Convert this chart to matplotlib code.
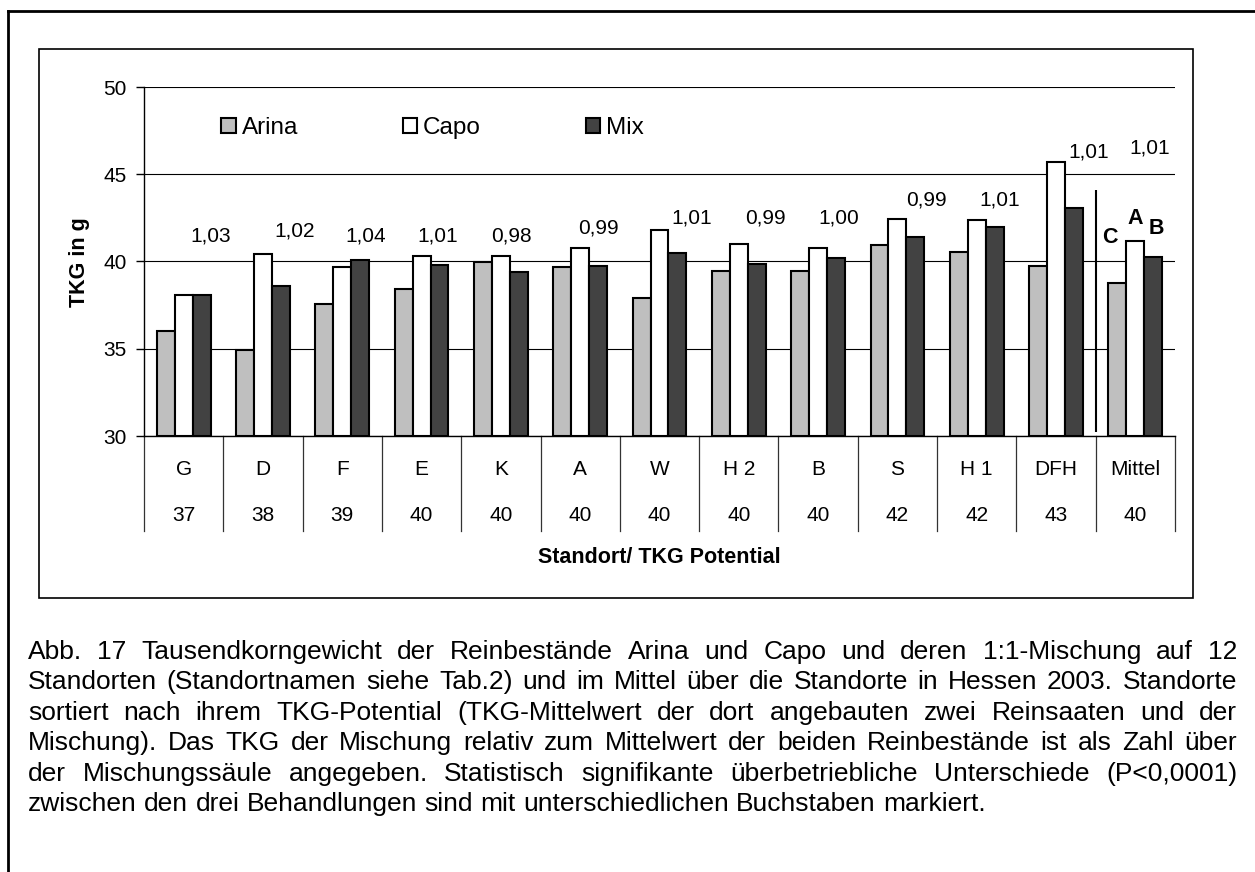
import matplotlib
matplotlib.use('Agg')
import matplotlib.pyplot as plt
from matplotlib.patches import Patch, Rectangle
from matplotlib.lines import Line2D
import numpy as np

plt.rcParams['font.family'] = ['Liberation Sans', 'DejaVu Sans']

# ---------------- data ----------------
standorte = ['G', 'D', 'F', 'E', 'K', 'A', 'W', 'H 2', 'B', 'S', 'H 1', 'DFH', 'Mittel']
tkg_potential = ['37', '38', '39', '40', '40', '40', '40', '40', '40', '42', '42', '43', '40']
series_names = ['Arina', 'Capo', 'Mix']
arina = [36.00, 34.93, 37.57, 38.45, 39.98, 39.66, 37.93, 39.43, 39.43, 40.93, 40.55, 39.75, 38.74]
capo = [38.08, 40.42, 39.69, 40.34, 40.30, 40.76, 41.83, 41.01, 40.80, 42.43, 42.39, 45.71, 41.15]
mix = [38.10, 38.62, 40.09, 39.80, 39.39, 39.77, 40.46, 39.85, 40.21, 41.41, 42.00, 43.06, 40.25]
ratio_labels = ['1,03', '1,02', '1,04', '1,01', '0,98', '0,99', '1,01', '0,99', '1,00',
                '0,99', '1,01', '1,01', '1,01']
mittel_letters = ['C', 'A', 'B']
y_ticks = [30, 35, 40, 45, 50]
y_label = 'TKG in g'
x_label = 'Standort/ TKG Potential'
caption_lines = [
    "Abb. 17 Tausendkorngewicht der Reinbestände Arina und Capo und deren 1:1-Mischung auf 12",
    "Standorten (Standortnamen siehe Tab.2) und im Mittel über die Standorte in Hessen 2003. Standorte",
    "sortiert nach ihrem TKG-Potential (TKG-Mittelwert der dort angebauten zwei Reinsaaten und der",
    "Mischung). Das TKG der Mischung relativ zum Mittelwert der beiden Reinbestände ist als Zahl über",
    "der Mischungssäule angegeben. Statistisch signifikante überbetriebliche Unterschiede (P<0,0001)",
    "zwischen den drei Behandlungen sind mit unterschiedlichen Buchstaben markiert.",
]

# ---------------- layout (annotation placement, not data) ----------------
ratio_label_y = [41.47, 41.75, 41.47, 41.47, 41.47, 41.9, 42.47, 42.47, 42.47, 43.5, 43.5, 46.28, 46.5]
ratio_label_dx_px = [9, 14, 5, -2, -7, 0, 14, 9, 3, 11, 5, 15, -4]
letter_offsets_px = [(-8, 46), (0, 23), (3, 29)]

W, H = 1255, 872
def fx(px):
    return px / W
def fy(py):
    return 1 - py / H

colors = ['#bfbfbf', '#ffffff', '#424242']

fig = plt.figure(figsize=(W / 100, H / 100), dpi=100)
ax = fig.add_axes([fx(144), fy(436), (1175 - 144) / W, (436 - 87) / H])

n = len(standorte)
x = np.arange(n) + 0.5
w = 0.226
base = y_ticks[0]
for k, (vals, c, name) in enumerate(zip([arina, capo, mix], colors, series_names)):
    v = np.array(vals)
    ax.bar(x + (k - 1) * w, v - base, w, bottom=base, color=c, edgecolor='black',
           linewidth=1.5, label=name, zorder=3)

ax.set_xlim(0, n)
ax.set_ylim(y_ticks[0], y_ticks[-1])
ax.set_yticks(y_ticks)
ax.set_xticks([])
ax.set_axisbelow(True)
ax.yaxis.grid(True, color='black', linewidth=0.8)
for s in ['top', 'right']:
    ax.spines[s].set_visible(False)
for s in ['left', 'bottom']:
    ax.spines[s].set_color('black')
    ax.spines[s].set_linewidth(1.0)
ax.tick_params(axis='y', direction='out', length=5.5, width=1, pad=7, labelsize=15)

# ratio labels above mix columns
for i in range(n):
    ax.annotate(ratio_labels[i], xy=(x[i] + w, ratio_label_y[i]),
                xytext=(ratio_label_dx_px[i], 0), textcoords='offset pixels',
                ha='center', va='center', fontsize=15, zorder=5)

# significance letters for Mittel
vals_m = [arina[-1], capo[-1], mix[-1]]
for k, (letter, (dx, dy)) in enumerate(zip(mittel_letters, letter_offsets_px)):
    ax.annotate(letter, xy=(x[-1] + (k - 1) * w, vals_m[k]), xytext=(dx, dy),
                textcoords='offset pixels', ha='center', va='center',
                fontsize=15.5, fontweight='bold', zorder=5)

# separator before Mittel
ax.vlines(n - 1, 30.25, 44.09, color='black', linewidth=1.5, zorder=4)

# category table below axis
xt = ax.get_xaxis_transform()
for k in range(n + 1):
    ax.plot([k, k], [0, -0.272], transform=xt, clip_on=False, color='#333333', linewidth=0.9)
for i in range(n):
    ax.text(x[i], -0.0974, standorte[i], transform=xt, ha='center', va='center', fontsize=15)
    ax.text(x[i], -0.229, tkg_potential[i], transform=xt, ha='center', va='center', fontsize=15)
ax.text(0.5, -0.347, x_label, transform=ax.transAxes, ha='center', va='center',
        fontsize=15.5, fontweight='bold')

fig.text(fx(79), fy(262.5), y_label, rotation=90, ha='center', va='center',
         fontsize=15.5, fontweight='bold')

# legend
handles = [Patch(facecolor=c, edgecolor='black', linewidth=1.5) for c in colors]
ax.legend(handles, series_names, loc='center left', ncol=3,
          bbox_to_anchor=(fx(221), fy(128)), bbox_transform=fig.transFigure,
          frameon=False, fontsize=17.5, handlelength=0.6, handleheight=0.6,
          handletextpad=0.25, columnspacing=4.3, borderpad=0, borderaxespad=0)

# frames
fig.add_artist(Rectangle((fx(39), fy(598)), (1193 - 39) / W, (598 - 49) / H,
                         transform=fig.transFigure, fill=False, edgecolor='black', linewidth=1.2))
fig.add_artist(Line2D([fx(8), 1.0], [fy(11), fy(11)], transform=fig.transFigure,
                      color='black', linewidth=2))
fig.add_artist(Line2D([fx(8), fx(8)], [fy(11), 0.0], transform=fig.transFigure,
                      color='black', linewidth=2))

# justified caption
fig.canvas.draw()
renderer = fig.canvas.get_renderer()
cap_left, cap_right = 28, 1237
cap_fs = 19
t1 = fig.text(0, 0, 'x x', fontsize=cap_fs)
t2 = fig.text(0, 0, 'xx', fontsize=cap_fs)
space_w = t1.get_window_extent(renderer).width - t2.get_window_extent(renderer).width
t1.remove(); t2.remove()
for i, line in enumerate(caption_lines):
    words = line.split(' ')
    yb = fy(659 + 30.4 * i)
    texts = [fig.text(0, yb, wd, fontsize=cap_fs, ha='left', va='baseline') for wd in words]
    widths = [t.get_window_extent(renderer).width for t in texts]
    if i < len(caption_lines) - 1 and len(words) > 1:
        gap = (cap_right - cap_left - sum(widths)) / (len(words) - 1)
        gap = max(gap, 0.5 * space_w)
    else:
        gap = space_w
    pos = cap_left
    for t, wd in zip(texts, widths):
        t.set_x(fx(pos))
        pos += wd + gap

fig.savefig('out.png', dpi=100)
